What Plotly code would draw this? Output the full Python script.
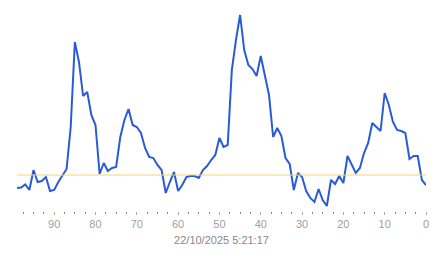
import plotly.graph_objects as go

ages = list(range(99, -1, -1))
values = [
    22, 22.5, 25.5, 20, 40, 28, 29, 33, 19, 20,          # 99..90
    28, 34, 41, 83, 168, 148, 114, 118, 95, 85,        # 89..80
    36, 47, 39, 42, 43, 73, 90, 101, 85, 83,           # 79..70
    77, 62, 53, 52, 45, 40, 17, 28, 38, 19,            # 69..60
    25, 33, 34, 34, 32, 40, 44, 50, 55, 72,            # 59..50
    63, 65, 140, 170, 195, 160, 145, 141, 134, 154,    # 49..40
    133, 115, 73, 82, 74, 52, 46, 20, 37, 33,          # 39..30
    19, 12, 8, 21, 10, 4, 30, 26, 34, 27,              # 29..20
    54, 45, 37, 42, 57, 67, 87, 83, 79, 117,           # 19..10
    105, 88, 80, 79, 77, 51, 54, 54, 30, 25,           # 9..0
]
threshold = 35
tick_vals = [90, 80, 70, 60, 50, 40, 30, 20, 10, 0]
timestamp = "22/10/2025 5:21:17"

fig = go.Figure()
fig.add_trace(go.Scatter(
    x=ages, y=values, mode="lines",
    line=dict(color="#2a5bd7", width=2),
    hoverinfo="skip", showlegend=False,
))
fig.add_trace(go.Scatter(
    x=[ages[0], ages[-1]], y=[threshold, threshold], mode="lines",
    line=dict(color="#f3d27a", width=1),
    hoverinfo="skip", showlegend=False,
))

fig.update_layout(
    width=443, height=258,
    margin=dict(l=17, r=17, t=0, b=47),
    paper_bgcolor="white", plot_bgcolor="white",
    font=dict(family="Liberation Sans, Arial, sans-serif", size=11, color="#999999"),
    xaxis=dict(
        range=[99, 0], showgrid=False, zeroline=False, showline=False,
        tickmode="array", tickvals=tick_vals, ticktext=[str(v) for v in tick_vals],
        ticks="outside", ticklen=3, tickcolor="#aaaaaa", tickwidth=1,
        tickfont=dict(size=11, color="#a0a0a0"),
        minor=dict(dtick=2.5, tick0=0, ticks="outside", ticklen=2, tickcolor="#888888", tickwidth=1, showgrid=False),
        title=dict(text=timestamp, font=dict(size=11, color="#888888"), standoff=7),
    ),
    yaxis=dict(
        range=[-1, 210], showgrid=False, zeroline=False, showline=False,
        showticklabels=False, ticks="",
    ),
)

fig.write_html("out.html")
